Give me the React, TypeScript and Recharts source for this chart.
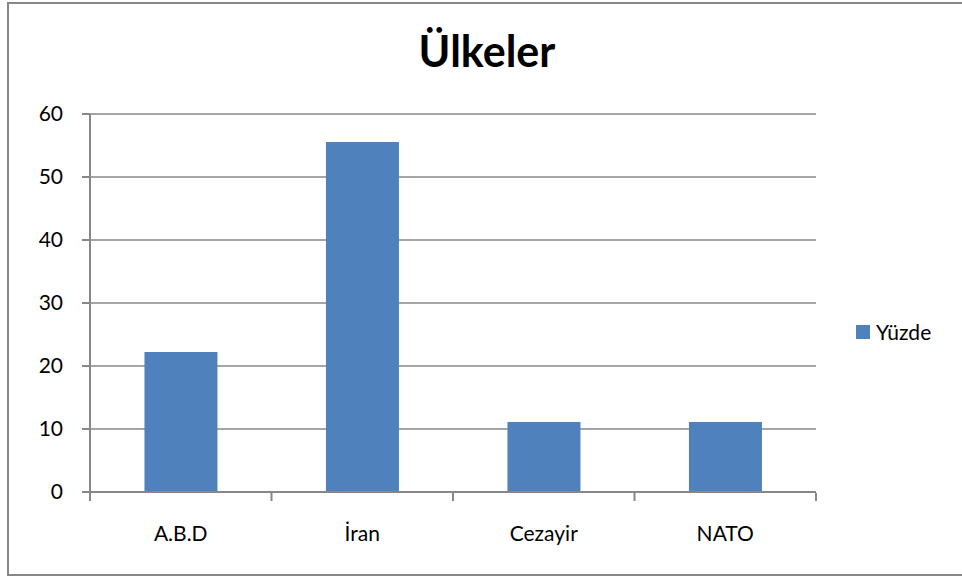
import { BarChart, Bar, XAxis, YAxis, CartesianGrid, Legend } from "recharts";

const categories = ["A.B.D", "İran", "Cezayir", "NATO"];
const yuzde = [22.22, 55.56, 11.11, 11.11];
const yTicks = [0, 10, 20, 30, 40, 50, 60];
const boundTicks = [0, 1, 2, 3, 4];

const data = categories.map((name, i) => ({ name, yuzde: yuzde[i], pos: i + 0.5 }));

const FONT = "Lato, 'Open Sans', sans-serif";
const GRAY = "#878787";
const BLUE = "#4F81BD";

function LegendBox() {
  return (
    <div style={{ display: "flex", alignItems: "center", fontFamily: FONT, fontSize: 21, color: "#000" }}>
      <span style={{ width: 14, height: 14, background: BLUE, display: "inline-block", marginRight: 6 }} />
      <span style={{ lineHeight: "20px" }}>Yüzde</span>
    </div>
  );
}

export default function App() {
  return (
    <div style={{ position: "absolute", left: 0, top: 0, width: 962, height: 578, overflow: "hidden", background: "#fff" }}>
      <div
        style={{
          position: "absolute",
          left: 7,
          top: 2,
          width: 960,
          height: 570,
          borderLeft: `2px solid ${GRAY}`,
          borderTop: `2px solid ${GRAY}`,
          borderBottom: `2px solid ${GRAY}`,
        }}
      />
      <div
        style={{
          position: "absolute",
          left: 0,
          width: 974,
          top: 25,
          textAlign: "center",
          fontFamily: FONT,
          fontWeight: 700,
          fontSize: 43,
          lineHeight: "52px",
          color: "#000",
        }}
      >
        Ülkeler
      </div>
      <div style={{ position: "absolute", left: 0, top: 0 }}>
        <BarChart
          width={962}
          height={578}
          data={data}
          margin={{ top: 114, right: 146, left: 30, bottom: 84 }}
          barCategoryGap="30%"
        >
          <CartesianGrid vertical={false} stroke={GRAY} strokeWidth={1.5} />
          <XAxis
            dataKey="name"
            height={1}
            tickLine={false}
            tickSize={0}
            tickMargin={34}
            axisLine={{ stroke: GRAY, strokeWidth: 2 }}
            tick={{ fill: "#000", fontSize: 21, fontFamily: FONT }}
          />
          <XAxis
            xAxisId="bounds"
            dataKey="pos"
            type="number"
            domain={[0, 4]}
            allowDataOverflow
            ticks={boundTicks}
            interval={0}
            height={1}
            tick={() => <g />}
            tickSize={8}
            axisLine={false}
            tickLine={{ stroke: GRAY, strokeWidth: 2 }}
          />
          <YAxis
            width={60}
            domain={[0, 60]}
            ticks={yTicks}
            tickSize={8}
            tickMargin={19}
            axisLine={{ stroke: GRAY, strokeWidth: 2 }}
            tickLine={{ stroke: GRAY, strokeWidth: 2 }}
            tick={{ fill: "#000", fontSize: 21, fontFamily: FONT }}
          />
          <Legend
            layout="vertical"
            align="center"
            verticalAlign="middle"
            wrapperStyle={{ left: 856, top: 322, width: "auto", height: "auto" }}
            content={() => <LegendBox />}
          />
          <Bar dataKey="yuzde" name="Yüzde" fill={BLUE} isAnimationActive={false} />
        </BarChart>
      </div>
    </div>
  );
}
